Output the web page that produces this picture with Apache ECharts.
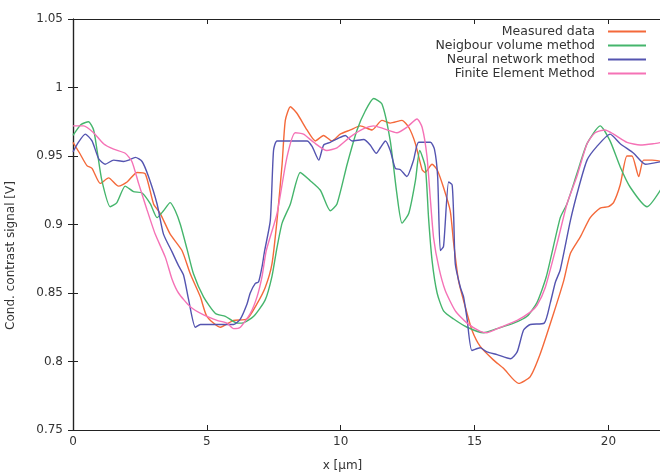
<!DOCTYPE html>
<html lang="en">
<head>
    <meta charset="UTF-8">
    <title>Cond. contrast signal</title>
    <script src="https://cdn.jsdelivr.net/npm/echarts@6/dist/echarts.min.js"></script>
</head>

<style>
    body {
        margin:0;
        padding:0;
        background:#fff;
    }
</style>

<body>

<div id="main" style="width: 660px;height: 472px;"></div>

<script>

    // 曲线数据，[x (μm), 信号 (V)]
    var seriesNames = ['Measured data', 'Neigbour volume method', 'Neural network method', 'Finite Element Method'];
    var seriesColors = ['#f4693a', '#45b56c', '#5454b0', '#f572b6'];

    var measured = [[0,0.960],[0.25,0.952],[0.52,0.943],[0.71,0.941],[1.02,0.930],[1.33,0.934],[1.70,0.928],[2.02,0.931],[2.39,0.938],[2.70,0.937],[3.01,0.915],[3.26,0.908],[3.63,0.893],[4.07,0.881],[4.38,0.864],[4.76,0.847],[5.0,0.833],[5.5,0.825],[6.0,0.830],[6.5,0.831],[6.87,0.842],[7.18,0.854],[7.43,0.871],[7.62,0.903],[7.81,0.944],[7.93,0.976],[8.12,0.986],[8.37,0.981],[8.74,0.969],[9.05,0.961],[9.36,0.965],[9.67,0.961],[9.98,0.966],[10.36,0.969],[10.73,0.972],[11.17,0.969],[11.54,0.976],[11.85,0.974],[12.29,0.976],[12.54,0.971],[12.79,0.959],[13.04,0.940],[13.15,0.938],[13.41,0.944],[13.6,0.940],[13.84,0.927],[14.09,0.910],[14.22,0.886],[14.4,0.859],[14.65,0.840],[14.9,0.823],[15.21,0.811],[15.71,0.801],[16.08,0.795],[16.64,0.784],[17.08,0.789],[17.46,0.806],[17.95,0.835],[18.33,0.859],[18.58,0.879],[18.95,0.891],[19.32,0.905],[19.69,0.912],[20.0,0.913],[20.19,0.916],[20.44,0.929],[20.69,0.950],[20.88,0.950],[21.13,0.935],[21.31,0.947],[21.63,0.947],[22,0.946]];

    var neighbour = [[0,0.965],[0.3,0.973],[0.58,0.975],[0.77,0.969],[0.9,0.954],[1.08,0.932],[1.39,0.913],[1.64,0.916],[1.95,0.928],[2.26,0.924],[2.58,0.923],[2.89,0.915],[3.14,0.905],[3.38,0.910],[3.63,0.916],[3.82,0.910],[4.01,0.900],[4.26,0.882],[4.5,0.864],[4.88,0.847],[5.32,0.835],[5.69,0.833],[6.13,0.828],[6.31,0.828],[6.75,0.833],[7.18,0.845],[7.43,0.862],[7.6,0.881],[7.81,0.901],[8.12,0.915],[8.49,0.938],[8.86,0.932],[9.24,0.925],[9.61,0.910],[9.86,0.915],[10.24,0.944],[10.61,0.969],[10.92,0.983],[11.23,0.992],[11.54,0.988],[11.85,0.961],[12.1,0.922],[12.29,0.901],[12.54,0.908],[12.79,0.932],[12.95,0.954],[13.16,0.942],[13.28,0.905],[13.41,0.874],[13.6,0.850],[13.84,0.837],[14.22,0.831],[14.72,0.825],[15.34,0.821],[15.84,0.824],[16.46,0.828],[16.96,0.833],[17.33,0.843],[17.68,0.862],[18.2,0.905],[18.45,0.915],[18.82,0.937],[19.2,0.959],[19.69,0.972],[20.06,0.961],[20.44,0.942],[20.82,0.927],[21.44,0.913],[22,0.927]];

    var neural = [[0,0.953],[0.2,0.960],[0.46,0.966],[0.71,0.961],[0.96,0.948],[1.2,0.944],[1.52,0.947],[1.89,0.946],[2.08,0.947],[2.33,0.949],[2.58,0.946],[2.82,0.935],[3.14,0.915],[3.38,0.893],[3.70,0.880],[3.94,0.870],[4.13,0.863],[4.32,0.845],[4.57,0.825],[4.76,0.827],[6.0,0.827],[6.25,0.831],[6.5,0.842],[6.62,0.850],[6.81,0.857],[6.93,0.858],[7.06,0.869],[7.15,0.880],[7.37,0.903],[7.49,0.954],[7.62,0.961],[8.74,0.961],[8.93,0.957],[9.18,0.947],[9.36,0.958],[9.61,0.960],[9.92,0.963],[10.17,0.965],[10.42,0.961],[10.86,0.962],[11.1,0.958],[11.33,0.952],[11.48,0.956],[11.67,0.961],[11.85,0.954],[12.04,0.941],[12.23,0.940],[12.47,0.935],[12.72,0.947],[12.91,0.960],[13.35,0.960],[13.5,0.955],[13.62,0.935],[13.72,0.881],[13.84,0.884],[14.03,0.931],[14.16,0.929],[14.22,0.905],[14.28,0.871],[14.47,0.854],[14.59,0.847],[14.72,0.831],[14.9,0.808],[15.21,0.810],[15.46,0.807],[15.84,0.805],[16.34,0.802],[16.59,0.807],[16.83,0.823],[17.08,0.827],[17.6,0.828],[17.83,0.843],[18.02,0.858],[18.2,0.867],[18.58,0.903],[18.89,0.927],[19.2,0.947],[19.57,0.957],[20.06,0.966],[20.44,0.959],[20.94,0.952],[21.38,0.944],[22,0.946]];

    var fem = [[0,0.972],[0.4,0.972],[0.77,0.967],[1.14,0.959],[1.52,0.955],[1.95,0.952],[2.2,0.946],[2.45,0.930],[2.76,0.911],[3.07,0.893],[3.45,0.876],[3.7,0.860],[3.94,0.850],[4.38,0.840],[4.88,0.834],[5.38,0.830],[5.75,0.828],[6.0,0.824],[6.25,0.825],[6.62,0.835],[6.87,0.847],[7.06,0.862],[7.22,0.881],[7.62,0.908],[7.99,0.949],[8.3,0.967],[8.61,0.966],[8.99,0.960],[9.48,0.954],[9.86,0.956],[10.36,0.964],[10.86,0.970],[11.23,0.972],[11.6,0.970],[12.1,0.967],[12.47,0.971],[12.85,0.977],[13.04,0.971],[13.22,0.950],[13.35,0.918],[13.47,0.890],[13.66,0.869],[13.9,0.852],[14.28,0.837],[14.72,0.828],[15.21,0.822],[15.46,0.821],[15.97,0.825],[16.59,0.830],[17.08,0.836],[17.33,0.841],[17.64,0.854],[18.08,0.886],[18.45,0.915],[18.82,0.935],[19.2,0.959],[19.5,0.967],[19.87,0.969],[20.19,0.966],[20.69,0.960],[21.19,0.958],[21.69,0.959],[22,0.960]];

    var allData = [measured, neighbour, neural, fem];

    var axisColor = '#222';
    var textColor = '#333';
    var fontName = 'DejaVu Sans';

    var myChart = echarts.init(document.getElementById('main'));

    var series = [];
    for (var i = 0; i < allData.length; i++) {
        series.push({
            name: seriesNames[i],
            type: 'line',
            data: allData[i],
            showSymbol: false,
            smooth: 0.2,
            lineStyle: { color: seriesColors[i], width: 1.4 },
            itemStyle: { color: seriesColors[i] },
            animation: false
        });
    }

    var option = {
        backgroundColor: '#fff',
        grid: { left: 73, top: 19, width: 589, height: 411, outerBoundsMode: 'none' },
        legend: {
            data: seriesNames,
            orient: 'vertical',
            align: 'right',
            right: 9,
            top: 20,
            itemWidth: 38,
            itemHeight: 2,
            itemGap: 1,
            icon: 'rect',
            textStyle: { color: textColor, fontSize: 12.5, fontFamily: fontName, padding: [0, 8, 0, 0] }
        },
        xAxis: [{
            type: 'value',
            min: 0, max: 22, interval: 5,
            name: 'x [μm]',
            nameLocation: 'middle',
            nameGap: 30,
            nameTextStyle: { color: textColor, fontSize: 12, fontFamily: fontName, padding: [0, 50, 0, 0] },
            axisLine: { lineStyle: { color: axisColor, width: 1.2 } },
            axisTick: { inside: true, length: 5, lineStyle: { color: axisColor } },
            axisLabel: { color: textColor, fontSize: 12, fontFamily: fontName, margin: 6, showMaxLabel: false },
            splitLine: { show: false }
        }, {
            type: 'value',
            position: 'top',
            min: 0, max: 22, interval: 5,
            axisLine: { lineStyle: { color: axisColor, width: 1.2 } },
            axisTick: { inside: true, length: 5, lineStyle: { color: axisColor } },
            axisLabel: { show: false },
            splitLine: { show: false }
        }],
        yAxis: [{
            type: 'value',
            min: 0.75, max: 1.05, interval: 0.05,
            name: 'Cond. contrast signal [V]',
            nameLocation: 'middle',
            nameGap: 56,
            nameTextStyle: { color: textColor, fontSize: 12, fontFamily: fontName, padding: [0, 62, 0, 0] },
            axisLine: { lineStyle: { color: axisColor, width: 1.2 } },
            axisTick: { inside: true, length: 5, lineStyle: { color: axisColor } },
            axisLabel: { color: textColor, fontSize: 12, fontFamily: fontName, margin: 10 },
            splitLine: { show: false }
        }, {
            type: 'value',
            position: 'right',
            min: 0.75, max: 1.05, interval: 0.05,
            axisLine: { show: true, lineStyle: { color: axisColor, width: 1.2 } },
            axisTick: { show: true, inside: true, length: 5, lineStyle: { color: axisColor } },
            axisLabel: { show: false },
            splitLine: { show: false }
        }],
        series: series
    };

    myChart.setOption(option);

</script>

</body>
</html>
